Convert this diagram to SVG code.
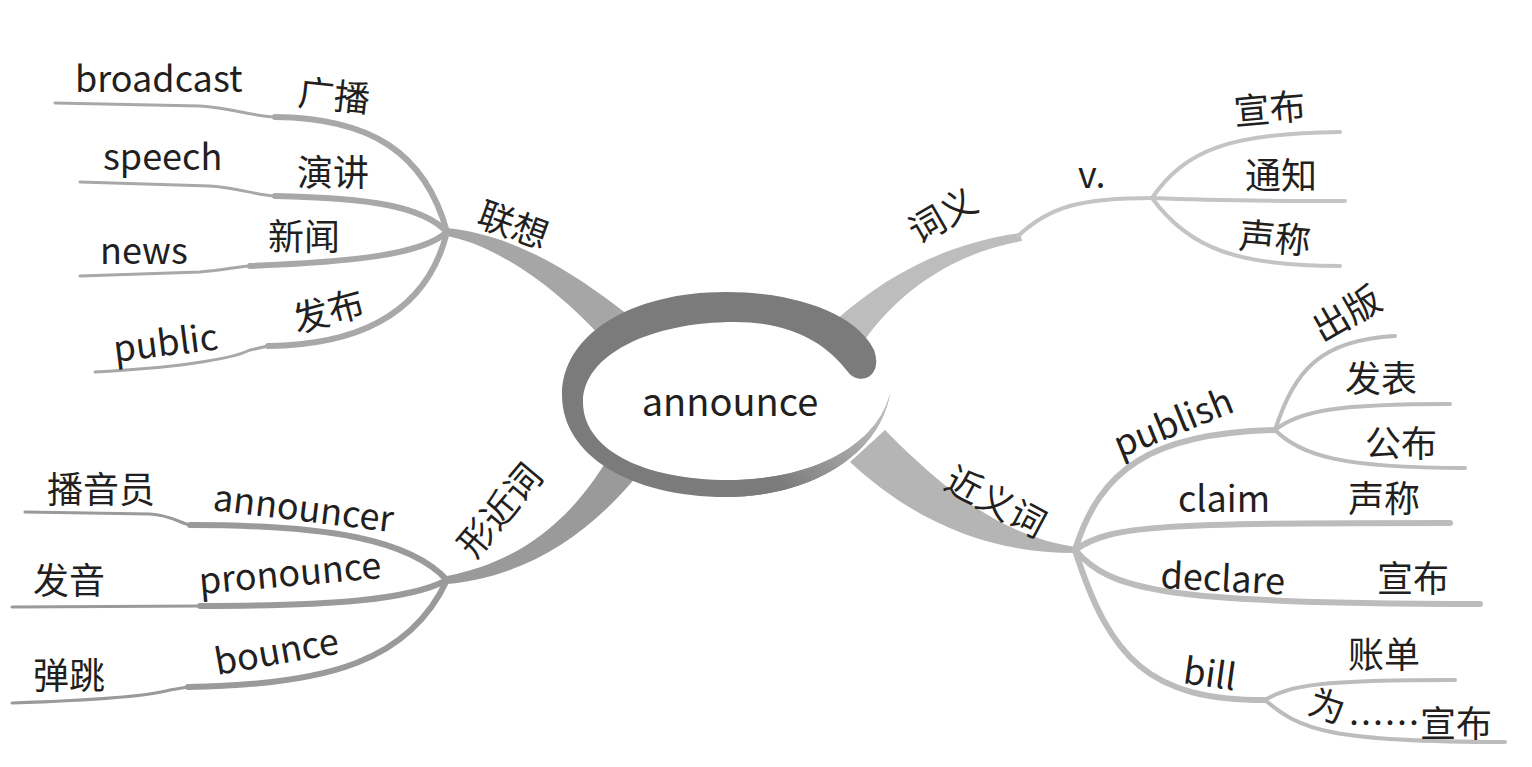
<svg xmlns="http://www.w3.org/2000/svg" width="1532" height="767" viewBox="0 0 1532 767">
<style>
.t{font-family:"Noto Sans CJK SC","Noto Sans",sans-serif;font-size:36px;fill:#231f20}
.c{font-size:38px}
.s{fill:none;stroke-linecap:round;stroke-linejoin:round}
.ul{stroke:#a8a8a8}
.ll{stroke:#9a9a9a}
.ur{stroke:#c4c4c4}
.lr{stroke:#bcbcbc}
.w6{stroke-width:6}
.w4{stroke-width:4}
.w3{stroke-width:3}
</style>
<defs>
<linearGradient id="bev" gradientUnits="userSpaceOnUse" x1="892" y1="400" x2="790" y2="495">
<stop offset="0" stop-color="#c8c8c8"/>
<stop offset="1" stop-color="#7b7b7b"/>
</linearGradient>
</defs>
<rect width="1532" height="767" fill="#ffffff"/>
<g id="connectors">
<!-- main branches -->
<path d="M447 228 C510 235 565 265 632 318 L600 336 C560 292 500 246 447 236 Z" fill="#a6a6a6"/>
<path d="M447 576 C520 562 572 520 610 455 L642 470 C592 532 530 576 447 584 Z" fill="#9a9a9a"/>
<path d="M836 320 C890 272 950 243 1020 233 L1022 241 C960 252 905 285 866 338 Z" fill="#bdbdbd"/>
<path class="s ur w4" d="M1018 236 C1050 206 1082 198 1152 198"/>
<path d="M885 430 C940 486 1000 536 1075 547 L1075 553 C988 553 915 522 850 462 Z" fill="#b5b5b5"/>
<!-- upper left -->
<path class="s ul w3" d="M55 103 L200 106 C232 108 250 116 275 117"/>
<path class="s ul w6" d="M275 117 C370 118 425 152 447 232"/>
<path class="s ul w3" d="M80 182 L210 186 C240 188 255 195 275 196"/>
<path class="s ul w6" d="M275 196 C370 198 422 206 447 232"/>
<path class="s ul w3" d="M80 276 L200 272 C225 270 235 267 250 266"/>
<path class="s ul w6" d="M250 266 C350 262 422 255 447 232"/>
<path class="s ul w3" d="M95 372 C170 368 230 360 250 350 L268 346"/>
<path class="s ul w6" d="M268 346 C350 345 425 320 447 232"/>
<!-- lower left -->
<path class="s ll w3" d="M25 512 L150 514 C170 515 180 523 190 525"/>
<path class="s ll w6" d="M190 525 C330 525 410 540 447 580"/>
<path class="s ll w3" d="M12 607 L200 606"/>
<path class="s ll w6" d="M200 606 C330 606 410 600 447 580"/>
<path class="s ll w3" d="M12 703 C100 700 150 696 170 690 L188 687"/>
<path class="s ll w6" d="M188 687 C330 685 410 660 447 580"/>
<!-- upper right -->
<path class="s ur w4" d="M1152 198 C1185 150 1230 133 1340 132"/>
<path class="s ur w4" d="M1152 198 C1200 200 1260 201 1345 201"/>
<path class="s ur w4" d="M1152 198 C1190 250 1240 266 1340 266"/>
<!-- lower right -->
<path class="s lr w6" d="M1075 550 C1100 470 1150 433 1275 430"/>
<path class="s lr w4" d="M1275 430 C1295 370 1320 340 1395 336"/>
<path class="s lr w4" d="M1275 430 C1300 410 1340 404 1450 404"/>
<path class="s lr w4" d="M1275 430 C1300 455 1340 468 1465 468"/>
<path class="s lr w6" d="M1075 550 C1110 525 1160 523 1450 523"/>
<path class="s lr w6" d="M1075 550 C1110 590 1160 604 1480 604"/>
<path class="s lr w6" d="M1075 550 C1110 660 1150 700 1265 700"/>
<path class="s lr w4" d="M1265 700 C1290 685 1320 680 1455 680"/>
<path class="s lr w4" d="M1265 700 C1300 730 1330 742 1505 742"/>
</g>
<g id="center">
<ellipse cx="737" cy="401" rx="152" ry="80" fill="#ffffff"/>
<path d="M874 350 C858 316 800 292 726 292 C630 292 562 335 562 395 C562 455 630 497 726 497 C810 497 880 455 890 393 C880 440 820 480 730 480 C640 480 583 448 583 402 C583 355 650 322 735 322 C790 322 825 342 848 372 C858 386 884 378 874 350 Z" fill="#7b7b7b"/>
<path d="M890 393 C880 455 810 497 726 497 L726 480 C820 480 880 440 890 393 Z" fill="url(#bev)"/>
<text class="t c" x="730" y="416" text-anchor="middle">announce</text>
</g>
<g id="n-lianxiang">
<text class="t" transform="translate(475 225) rotate(20)">联想</text>
</g>
<g id="n-broadcast"><text class="t" x="75" y="92">broadcast</text><text class="t" transform="translate(297 105) rotate(6)">广播</text></g>
<g id="n-speech"><text class="t" x="103" y="170">speech</text><text class="t" x="297" y="186">演讲</text></g>
<g id="n-news"><text class="t" x="100" y="264">news</text><text class="t" x="268" y="250">新闻</text></g>
<g id="n-public"><text class="t" transform="translate(115 362) rotate(-7)">public</text><text class="t" transform="translate(297 333) rotate(-15)">发布</text></g>
<g id="n-xingjinci"><text class="t" transform="translate(475 560) rotate(-50)">形近词</text></g>
<g id="n-announcer"><text class="t" x="47" y="503">播音员</text><text class="t" transform="translate(212 510) rotate(7)">announcer</text></g>
<g id="n-pronounce"><text class="t" x="33" y="594">发音</text><text class="t" transform="translate(200 594) rotate(-5)">pronounce</text></g>
<g id="n-bounce"><text class="t" x="33" y="689">弹跳</text><text class="t" transform="translate(217 675) rotate(-10)">bounce</text></g>
<g id="n-ciyi"><text class="t" transform="translate(918 245) rotate(-30)">词义</text></g>
<g id="n-v"><text class="t" x="1078" y="188">v.</text></g>
<g id="n-xuanbu1"><text class="t" transform="translate(1235 125) rotate(-5)">宣布</text></g>
<g id="n-tongzhi"><text class="t" x="1245" y="189">通知</text></g>
<g id="n-shengcheng1"><text class="t" transform="translate(1238 248) rotate(5)">声称</text></g>
<g id="n-jinyici"><text class="t" transform="translate(942 488) rotate(28)">近义词</text></g>
<g id="n-publish"><text class="t" transform="translate(1120 458) rotate(-22)">publish</text></g>
<g id="n-chuban"><text class="t" transform="translate(1322 343) rotate(-30)">出版</text></g>
<g id="n-fabiao"><text class="t" x="1345" y="392">发表</text></g>
<g id="n-gongbu"><text class="t" x="1365" y="457">公布</text></g>
<g id="n-claim"><text class="t" x="1178" y="512">claim</text><text class="t" x="1348" y="512">声称</text></g>
<g id="n-declare"><text class="t" transform="translate(1160 588) rotate(3)">declare</text><text class="t" x="1377" y="592">宣布</text></g>
<g id="n-bill"><text class="t" transform="translate(1182 683) rotate(8)">bill</text></g>
<g id="n-zhangdan"><text class="t" x="1348" y="668">账单</text></g>
<g id="n-weixuanbu"><text class="t"><tspan x="1306" y="713" rotate="18">为</tspan><tspan x="1348" y="737">……宣布</tspan></text></g>
</svg>
